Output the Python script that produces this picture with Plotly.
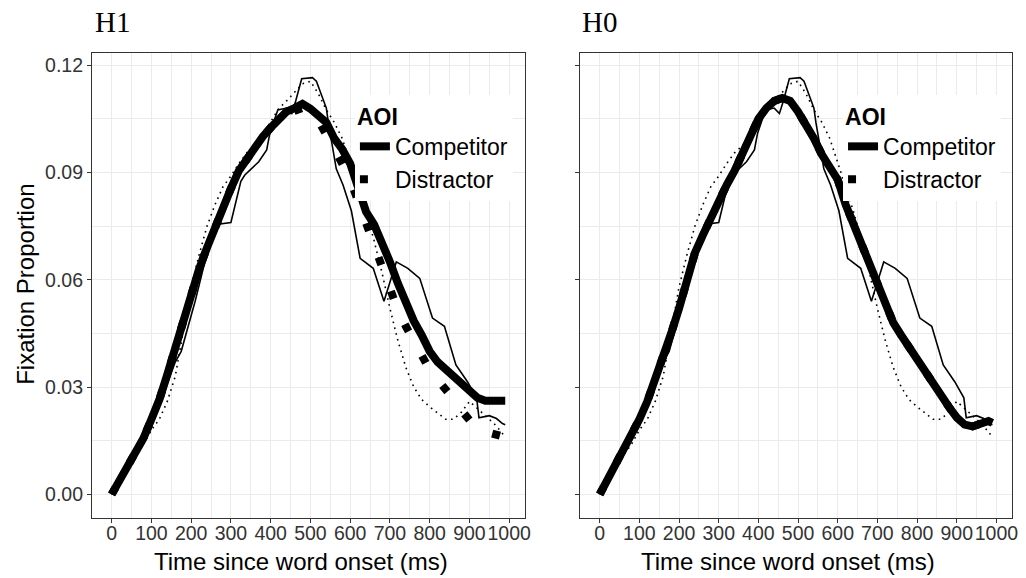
import plotly.graph_objects as go

# ---------------- data ----------------
# observed proportions (same in both panels)
comp_obs_t = [0, 20, 40, 60, 80, 100, 120, 140, 160, 175, 190, 210, 230, 250, 268, 300,
              325, 335, 370, 390, 398, 418, 440, 453, 463, 478, 505, 515, 540, 545, 565,
              582, 603, 625, 658, 685, 716, 745, 775, 807, 837, 866, 895, 918, 924, 950,
              968, 983, 990]
comp_obs_v = [0.000, 0.004, 0.008, 0.012, 0.016, 0.020, 0.025, 0.031, 0.037, 0.040, 0.046,
              0.054, 0.063, 0.071, 0.0755, 0.0760, 0.0875, 0.0893, 0.0930, 0.0963, 0.1010,
              0.1075, 0.1080, 0.1065, 0.1100, 0.1162, 0.1165, 0.1155, 0.1080, 0.1040, 0.0910,
              0.0865, 0.0793, 0.0660, 0.0632, 0.0540, 0.0650, 0.0632, 0.0604, 0.0493, 0.0470,
              0.0362, 0.0315, 0.0270, 0.0214, 0.0220, 0.0212, 0.0198, 0.0195]

time = [0, 20, 40, 60, 80, 100, 120, 140, 160, 180, 200, 220, 240, 260, 280, 300, 320, 340,
        360, 380, 400, 420, 440, 460, 480, 500, 520, 540, 560, 580, 600, 620, 640, 660, 680,
        700, 720, 740, 760, 780, 800, 820, 840, 860, 880, 900, 920, 940, 960, 980, 990]

dist_obs_v = [0.000, 0.004, 0.007, 0.011, 0.014, 0.018, 0.021, 0.026, 0.033, 0.045, 0.058,
              0.067, 0.075, 0.081, 0.086, 0.089, 0.0925, 0.0955, 0.0975, 0.1005, 0.104,
              0.1078, 0.110, 0.1125, 0.1148, 0.1155, 0.112, 0.1075, 0.104, 0.0995, 0.093,
              0.086, 0.079, 0.071, 0.062, 0.052, 0.043, 0.0355, 0.030, 0.0265, 0.0245,
              0.0228, 0.021, 0.021, 0.023, 0.026, 0.024, 0.022, 0.020, 0.0175, 0.016]

# H1 model fits
h1_comp_fit = [0.000, 0.0038, 0.0077, 0.0115, 0.0157, 0.021, 0.0265, 0.0335, 0.041, 0.0485,
               0.056, 0.063, 0.069, 0.075, 0.080, 0.0855, 0.0905, 0.094, 0.097, 0.100,
               0.1025, 0.105, 0.107, 0.108, 0.1092, 0.1078, 0.106, 0.104, 0.0995, 0.0965,
               0.0925, 0.0855, 0.079, 0.0755, 0.0705, 0.065, 0.059, 0.0535, 0.0485, 0.0445,
               0.040, 0.037, 0.035, 0.0335, 0.031, 0.029, 0.027, 0.0262, 0.0262, 0.0262, 0.0262]
h1_dist_fit = [0.000, 0.0038, 0.0077, 0.0115, 0.0157, 0.021, 0.0265, 0.0335, 0.041, 0.0485,
               0.056, 0.063, 0.069, 0.075, 0.080, 0.0855, 0.0905, 0.094, 0.097, 0.100,
               0.1025, 0.105, 0.1065, 0.1075, 0.108, 0.1075, 0.1045, 0.1005, 0.097, 0.0925,
               0.088, 0.082, 0.076, 0.0695, 0.0635, 0.0565, 0.0515, 0.047, 0.043, 0.039,
               0.0348, 0.032, 0.0295, 0.0267, 0.0235, 0.0203, 0.018, 0.0175, 0.017, 0.0165, 0.016]

# H0 model fit (same curve for both AOIs)
h0_fit = [0.000, 0.004, 0.008, 0.012, 0.0165, 0.021, 0.026, 0.032, 0.038, 0.045, 0.052,
          0.0605, 0.0675, 0.0725, 0.0775, 0.082, 0.0865, 0.0905, 0.095, 0.1005, 0.105,
          0.108, 0.110, 0.1108, 0.110, 0.107, 0.1035, 0.0995, 0.095, 0.0915, 0.088, 0.081,
          0.0755, 0.0695, 0.064, 0.0585, 0.053, 0.048, 0.0445, 0.041, 0.0375, 0.035, 0.031,
          0.0275, 0.0245, 0.0215, 0.0195, 0.019, 0.0195, 0.0205, 0.020]

panel_titles = ["H1", "H0"]
aoi_names = ["Competitor", "Distractor"]
x_ticks = [0, 100, 200, 300, 400, 500, 600, 700, 800, 900, 1000]
y_ticks = [0.00, 0.03, 0.06, 0.09, 0.12]

# ---------------- figure ----------------
W, H = 1026, 578
THICK = 8
THIN = 1.6
dot_thick = "8px,28px"
dot_thin = "1.6px,4.4px"

fig = go.Figure()

panels = [("x", "y", "legend", h1_comp_fit, h1_dist_fit),
          ("x2", "y2", "legend2", h0_fit, h0_fit)]
for xa, ya, lg, cfit, dfit in panels:
    fig.add_trace(go.Scatter(x=time, y=dfit, mode="lines", xaxis=xa, yaxis=ya,
                             line=dict(color="black", width=THICK, dash=dot_thick),
                             name=aoi_names[1], legend=lg, legendrank=2, hoverinfo="skip"))
    fig.add_trace(go.Scatter(x=time, y=cfit, mode="lines", xaxis=xa, yaxis=ya,
                             line=dict(color="black", width=THICK),
                             name=aoi_names[0], legend=lg, legendrank=1, hoverinfo="skip"))
    fig.add_trace(go.Scatter(x=comp_obs_t, y=comp_obs_v, mode="lines", xaxis=xa, yaxis=ya,
                             line=dict(color="black", width=THIN),
                             showlegend=False, hoverinfo="skip"))
    fig.add_trace(go.Scatter(x=time, y=dist_obs_v, mode="lines", xaxis=xa, yaxis=ya,
                             line=dict(color="black", width=THIN, dash=dot_thin),
                             showlegend=False, hoverinfo="skip"))

tick_font = dict(family="Liberation Sans, Arial, sans-serif", size=19.5, color="#333333")
grid_col = "#EBEBEB"
ydom = [1 - 518 / H, 1 - 53 / H]

def xaxis(dom, anchor):
    return dict(domain=dom, anchor=anchor, range=[-49.5, 1039.5], tickvals=x_ticks,
                tickangle=0, ticklabelstandoff=-6,
                ticks="outside", ticklen=4, tickcolor="#333333", tickwidth=1,
                showline=True, mirror=True, linecolor="#333333", linewidth=1,
                showgrid=True, gridcolor=grid_col, gridwidth=1, zeroline=False,
                minor=dict(dtick=50, tick0=0, showgrid=True, gridcolor=grid_col,
                           gridwidth=1, ticklen=0),
                tickfont=tick_font)

def yaxis(anchor, labels):
    return dict(domain=ydom, anchor=anchor, range=[-0.0066, 0.1234], tickvals=y_ticks,
                tickformat=".2f", showticklabels=labels,
                ticks="outside", ticklen=4, tickcolor="#333333", tickwidth=1,
                showline=True, mirror=True, linecolor="#333333", linewidth=1,
                showgrid=True, gridcolor=grid_col, gridwidth=1, zeroline=False,
                minor=dict(dtick=0.015, tick0=0, showgrid=True, gridcolor=grid_col,
                           gridwidth=1, ticklen=0),
                tickfont=tick_font)

leg_font = dict(family="Liberation Sans, Arial, sans-serif", size=23, color="black")

def legend(xpx):
    return dict(x=xpx / W, y=1 - 95 / H, xanchor="left", yanchor="top",
                bgcolor="white", borderwidth=0, font=leg_font, itemwidth=30,
                tracegroupgap=0,
                title=dict(text="<b>AOI</b>", font=leg_font))

fig.update_layout(
    width=W, height=H, margin=dict(l=0, r=0, t=0, b=0),
    paper_bgcolor="white", plot_bgcolor="white",
    xaxis=xaxis([92.5 / W, 528 / W], "y"),
    yaxis=yaxis("x", True),
    xaxis2=xaxis([583.5 / W, 1018 / W], "y2"),
    yaxis2=yaxis("x2", False),
    legend=legend(357),
    legend2=legend(848),
    hovermode=False,
)

title_font = dict(family="Liberation Serif, Times New Roman, serif", size=29, color="black")
axis_title_font = dict(family="Liberation Sans, Arial, sans-serif", size=24, color="black")
annos = [
    dict(text=panel_titles[0], x=94 / W, y=1 - 22 / H, xanchor="left", yanchor="middle",
         font=title_font),
    dict(text=panel_titles[1], x=583 / W, y=1 - 22 / H, xanchor="left", yanchor="middle",
         font=title_font),
    dict(text="Fixation Proportion", x=25 / W, y=1 - 284 / H, xanchor="center",
         yanchor="middle", textangle=-90, font=axis_title_font),
    dict(text="Time since word onset (ms)", x=303 / W, y=1 - 561 / H, xanchor="center",
         yanchor="middle", font=axis_title_font),
    dict(text="Time since word onset (ms)", x=793 / W, y=1 - 561 / H, xanchor="center",
         yanchor="middle", font=axis_title_font),
]
for a in annos:
    a.update(xref="paper", yref="paper", showarrow=False)
fig.update_layout(annotations=annos)

fig.write_html("out.html")
